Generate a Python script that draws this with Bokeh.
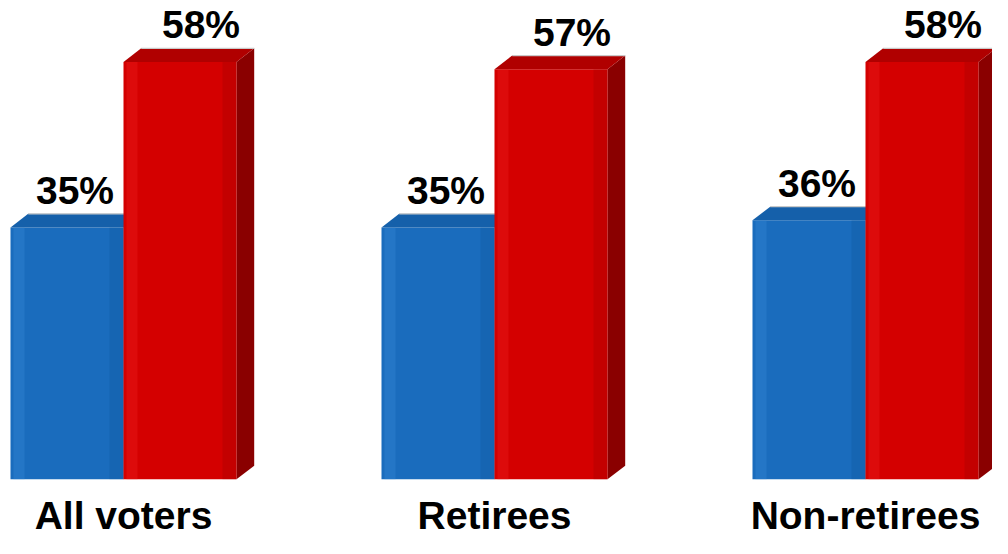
from bokeh.plotting import figure
from bokeh.models import Range1d, ColumnDataSource
from bokeh.core.properties import value
from bokeh.embed import file_html
from bokeh.resources import INLINE

# ---- data ----
categories = ["All voters", "Retirees", "Non-retirees"]
blue_values = [35, 35, 36]
red_values = [58, 57, 58]
blue_labels = ["35%", "35%", "36%"]
red_labels = ["58%", "57%", "58%"]

# ---- geometry (pixel scale helpers) ----
W, H = 992, 538
PX_PER_X = 371.0      # pixels per group step
PX_PER_Y = 7.196      # pixels per percentage point
x0_px, base_px = 123.0, 478.8   # group 0 centre / zero line within the canvas
x_start = -x0_px / PX_PER_X
x_end = (W - x0_px) / PX_PER_X
y_end = base_px / PX_PER_Y
y_start = -(H - base_px) / PX_PER_Y

bw = 113 / PX_PER_X         # bar width
ddx = 17.7 / PX_PER_X       # depth x
ddy = 13.6 / PX_PER_Y       # depth y

p = figure(width=W, height=H, x_range=Range1d(x_start, x_end), y_range=Range1d(y_start, y_end),
           output_backend="svg", toolbar_location=None, min_border=0,
           x_axis_location=None, y_axis_location=None)
p.grid.visible = False
p.outline_line_color = None
p.background_fill_color = "white"
p.border_fill_color = "white"

centers = list(range(len(categories)))


def draw_bar(lefts, vals, front, top, side, hi, lo):
    rights = [l + bw for l in lefts]
    # side faces
    xs = [[r, r + ddx, r + ddx, r] for r in rights]
    ys = [[0, ddy, v + ddy, v] for v in vals]
    p.patches(xs, ys, fill_color=side, line_color=None)
    # front faces
    p.quad(left=lefts, right=rights, bottom=0, top=vals, fill_color=front, line_color=None)
    # subtle shading strips on the front faces
    p.quad(left=[l + 3 / PX_PER_X for l in lefts], right=[l + 14 / PX_PER_X for l in lefts],
           bottom=0, top=vals, fill_color=hi, fill_alpha=0.35, line_color=None)
    p.quad(left=[r - 14 / PX_PER_X for r in rights], right=rights,
           bottom=0, top=vals, fill_color=lo, fill_alpha=0.25, line_color=None)
    # top faces
    xs = [[l, r, r + ddx, l + ddx] for l, r in zip(lefts, rights)]
    ys = [[v, v, v + ddy, v + ddy] for v in vals]
    p.patches(xs, ys, fill_color=top, line_color=None)
    # light edge at back of top face
    p.multi_line([[l + ddx, r + ddx] for l, r in zip(lefts, rights)],
                 [[v + ddy, v + ddy] for v in vals], line_color="#c9c9c9", line_width=1.2)


blue_left = [c - bw for c in centers]
red_left = list(centers)
draw_bar(blue_left, blue_values, "#1a6cbd", "#1560aa", "#0f4c88", "#3a8ad8", "#0c4f95")
draw_bar(red_left, red_values, "#d40000", "#b00000", "#8a0000", "#ee2020", "#900000")

# value labels (vertically centred a fixed pixel distance above each bar)
lab_off = 37 / PX_PER_Y
src_b = ColumnDataSource(dict(x=[c - bw / 2 + 8 / PX_PER_X for c in centers],
                              y=[v + lab_off for v in blue_values], t=blue_labels))
src_r = ColumnDataSource(dict(x=[c + bw / 2 + 21 / PX_PER_X for c in centers],
                              y=[v + lab_off for v in red_values], t=red_labels))
for s in (src_b, src_r):
    p.text(x="x", y="y", text="t", source=s, text_font=value("Liberation Sans"),
           text_font_style="bold", text_font_size="39px", text_align="center",
           text_baseline="middle", text_color="black")

# category labels
src_c = ColumnDataSource(dict(x=centers, y=[-(36 / PX_PER_Y)] * 3, t=categories))
p.text(x="x", y="y", text="t", source=src_c, text_font=value("Liberation Sans"),
       text_font_style="bold", text_font_size="39px", text_align="center",
       text_baseline="middle", text_color="black")

open("out.html", "w").write(file_html(p, INLINE))
